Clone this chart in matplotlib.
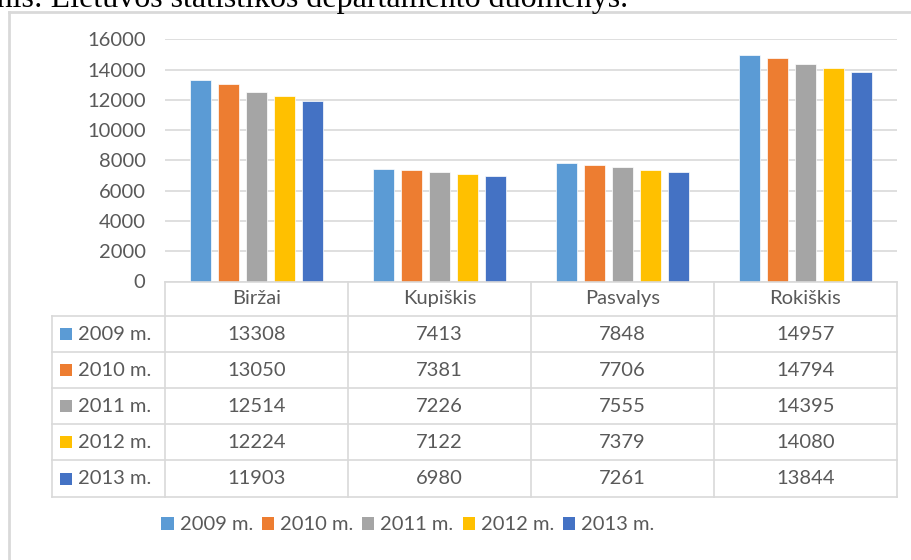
import matplotlib
matplotlib.use("Agg")
import matplotlib.pyplot as plt
import numpy as np
from matplotlib.patches import Rectangle, Patch
from matplotlib.lines import Line2D
from matplotlib.transforms import blended_transform_factory

# ---- data ----
categories = ["Biržai", "Kupiškis", "Pasvalys", "Rokiškis"]
series_labels = ["2009 m.", "2010 m.", "2011 m.", "2012 m.", "2013 m."]
v2009 = [13308, 7413, 7848, 14957]
v2010 = [13050, 7381, 7706, 14794]
v2011 = [12514, 7226, 7555, 14395]
v2012 = [12224, 7122, 7379, 14080]
v2013 = [11903, 6980, 7261, 13844]
series_values = [v2009, v2010, v2011, v2012, v2013]
colors = ["#5B9BD5", "#ED7D31", "#A5A5A5", "#FFC000", "#4472C4"]
yticks = [0, 2000, 4000, 6000, 8000, 10000, 12000, 14000, 16000]
source_text = "Šaltinis: Lietuvos statistikos departamento duomenys."

TXT = "#595959"
GRID = "#d9d9d9"
FONT = "Lato"
FS = 14.5

W, H = 912, 560
fig = plt.figure(figsize=(W / 100, H / 100), dpi=100)
fig.patch.set_facecolor("white")

def fx(px):
    return px / W

def fy(py):
    return 1 - py / H

# axes placement (pixels)
ax_l, ax_r, ax_t, ax_b = 165, 897, 39.3, 281.5
ax = fig.add_axes([fx(ax_l), fy(ax_b), fx(ax_r) - fx(ax_l), fy(ax_t) - fy(ax_b)])

n = len(categories)
x = np.arange(n)
step = 0.153
width = 0.12
for i, (vals, c) in enumerate(zip(series_values, colors)):
    ax.bar(x + (i - 2) * step, vals, width=width, color=c, edgecolor="white",
           linewidth=0.5, zorder=3, label=series_labels[i])

ax.set_xlim(-0.5, n - 0.5)
ax.set_ylim(0, 16000)
ax.set_yticks(yticks)
ax.set_yticklabels([str(t) for t in yticks], fontsize=FS, color=TXT, family=FONT)
ax.tick_params(axis="y", length=0, pad=14)
ax.set_xticks([])
ax.yaxis.grid(True, color=GRID, linewidth=1.2, zorder=0)
for s in ax.spines.values():
    s.set_visible(False)
ax.set_facecolor("none")

# ---- data table ----
bt = blended_transform_factory(ax.transData, fig.transFigure)
row_edges = [281.5, 316, 352, 388, 424, 460, 497]
tbl_left = 52
lw = 1.2

# horizontal lines
fig.add_artist(Line2D([fx(ax_l), fx(ax_r)], [fy(row_edges[0])] * 2, color=GRID, lw=lw))
for ry in row_edges[1:]:
    fig.add_artist(Line2D([fx(tbl_left), fx(ax_r)], [fy(ry)] * 2, color=GRID, lw=lw))
# vertical lines
for b in np.arange(n + 1) - 0.5:
    fig.add_artist(Line2D([b, b], [fy(row_edges[0]), fy(row_edges[-1])], color=GRID,
                          lw=lw, transform=bt))
fig.add_artist(Line2D([fx(tbl_left)] * 2, [fy(row_edges[1]), fy(row_edges[-1])], color=GRID, lw=lw))

# header
hy = (row_edges[0] + row_edges[1]) / 2
for xi, cat in zip(x, categories):
    fig.text(xi, fy(hy), cat, transform=bt, ha="center", va="center",
             fontsize=FS, color=TXT, family=FONT)

# rows
for r, (lab, vals, c) in enumerate(zip(series_labels, series_values, colors)):
    cy = (row_edges[r + 1] + row_edges[r + 2]) / 2
    sq = 12
    fig.add_artist(Rectangle((fx(60), fy(cy + sq / 2)), sq / W, sq / H,
                             transform=fig.transFigure, facecolor=c, edgecolor="none"))
    fig.text(fx(78), fy(cy), lab, ha="left", va="center", fontsize=FS,
             color=TXT, family=FONT)
    for xi, v in zip(x, vals):
        fig.text(xi, fy(cy), str(v), transform=bt, ha="center", va="center",
                 fontsize=FS, color=TXT, family=FONT)

# ---- legend ----
handles = [Patch(facecolor=c, edgecolor="none", label=l) for c, l in zip(colors, series_labels)]
leg = fig.legend(handles=handles, loc="center", ncol=5, frameon=False,
                 bbox_to_anchor=(fx(408), fy(525)), prop={"family": FONT, "size": FS},
                 handlelength=0.6, handleheight=0.6, handletextpad=0.3,
                 columnspacing=0.45, labelcolor=TXT)

# ---- chart border ----
fig.add_artist(Line2D([fx(9), fx(912)], [fy(12), fy(12)], color=GRID, lw=2))
fig.add_artist(Line2D([fx(9), fx(9)], [fy(12), fy(560)], color=GRID, lw=2))

# ---- cropped source line at top (the reference shows it cut off at the top edge) ----
fig.text(fx(628), fy(7), source_text, ha="right", va="baseline",
         fontsize=23, color="black", family="Liberation Serif")

fig.savefig("out.png", dpi=100)
